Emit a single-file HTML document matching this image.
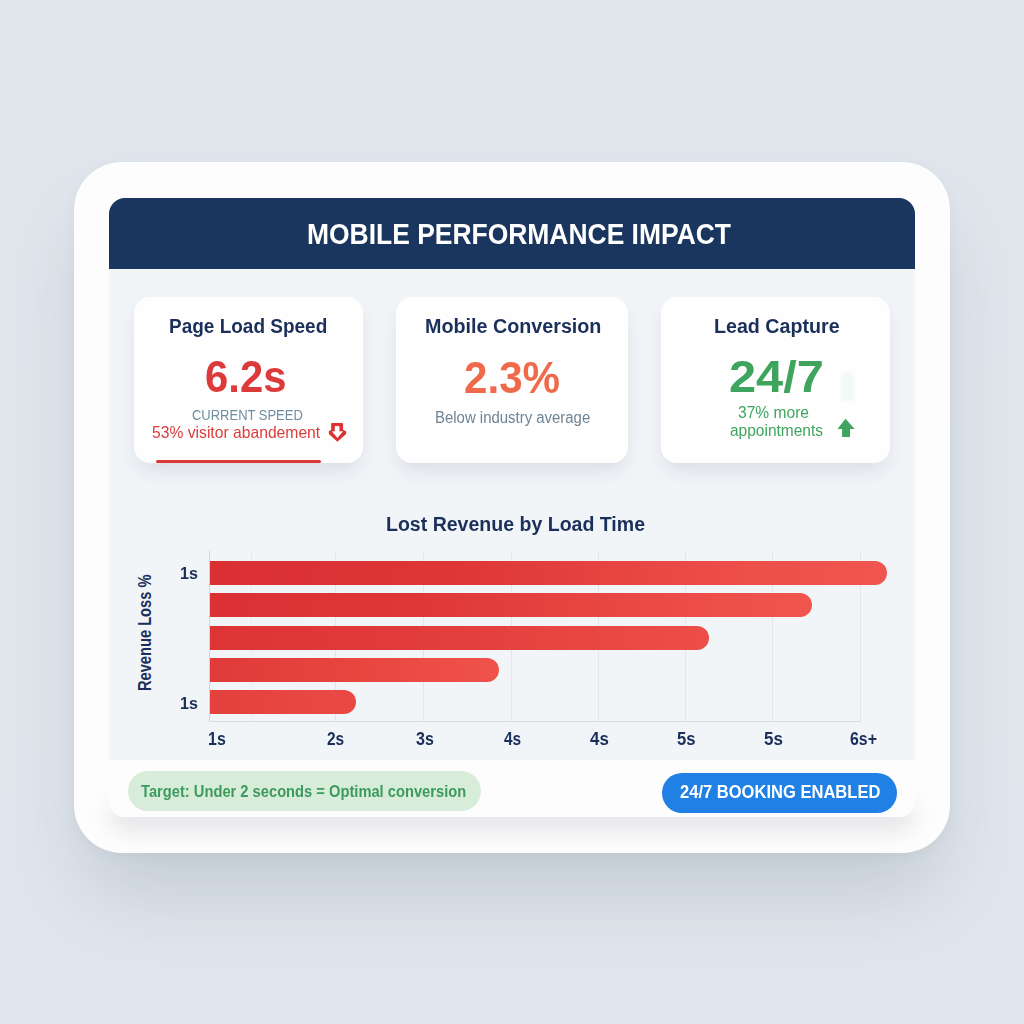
<!DOCTYPE html>
<html><head><meta charset="utf-8">
<style>
*{margin:0;padding:0;box-sizing:border-box}
html,body{width:1024px;height:1024px;overflow:hidden}
body{font-family:"Liberation Sans",sans-serif;background:linear-gradient(180deg,#e1e6ed 0%,#e0e6ec 60%,#e0e6ed 100%);position:relative}
.abs{position:absolute}
.t{position:absolute;white-space:nowrap;line-height:1;transform-origin:0 0}
.outer{left:74px;top:162px;width:876px;height:691px;border-radius:48px;background:#fdfdfd;box-shadow:0 50px 80px -14px rgba(100,115,130,.25),0 4px 12px rgba(100,115,130,.06)}
.panel{left:108.500px;top:198px;width:806.700px;height:619px;border-radius:16px;background:#f2f5f8;overflow:hidden}
.hdr{left:0;top:0;width:808px;height:71px;background:#1a355e}
.foot{left:0;top:562px;width:808px;height:57px;background:#fdfdfe}
.card{height:166px;top:297px;border-radius:16px;background:#fefefe;box-shadow:0 10px 20px -3px rgba(150,160,175,.28)}
.bar{position:absolute;left:210px;height:24px;border-radius:0 12px 12px 0;background:linear-gradient(90deg,#dc3232 0%,#e84440 50%,#f0574f 100%)}
.grid{position:absolute;top:551px;width:1px;height:171px;background:#e2e5ea}
</style></head><body>
<div class="abs outer"></div>
<div class="abs" style="left:74px;top:790px;width:876px;height:63px;overflow:hidden;border-radius:0 0 48px 48px;-webkit-mask-image:linear-gradient(180deg,transparent 0,#000 30px);mask-image:linear-gradient(180deg,transparent 0,#000 30px)"><div class="abs" style="left:34.500px;top:-592px;width:806.700px;height:619px;border-radius:16px;box-shadow:0 16px 22px -2px rgba(105,110,125,.17)"></div></div>
<div class="abs panel">
  <div class="abs hdr"></div>
  <div class="abs foot"></div>
</div>

<div class="abs card" style="left:134px;width:229px"></div>
<div class="abs card" style="left:396px;width:232px"></div>
<div class="abs card" style="left:661px;width:229px"></div>

<svg class="abs" style="left:320px;top:415px" width="36" height="36" viewBox="0 0 36 36">
<path d="M12 8.900H22.200V15.300L25.300 16.700V18.700L17.400 25.500L9.700 18.700V16.700L12 15.300Z" fill="#dc3232" stroke="#dc3232" stroke-width="1.700" stroke-linejoin="round"/>
<path d="M15 11.300H19.200V16.500H22.700L17.400 22.700L12.300 16.500H15Z" fill="#fff" stroke="#fff" stroke-width=".4" stroke-linejoin="round"/>
</svg>
<div class="abs" style="left:156px;top:460px;width:165px;height:3px;background:#dc3838;border-radius:1.500px"></div>

<svg class="abs" style="left:828px;top:410px" width="36" height="36" viewBox="0 0 36 36"><path d="M17.5 8.800L26.700 19H22V26.900H14.100V19H9.500Z" fill="#3fa55e"/></svg>
<div class="abs" style="left:841px;top:371px;width:13px;height:30px;border-radius:7px 7px 3px 3px;background:rgba(63,165,94,.06);filter:blur(1px)"></div>

<div class="grid" style="left:209px;background:#cfd5dd;width:1.200px"></div>
<div class="grid" style="left:251px;background:#e8eaee"></div>
<div class="grid" style="left:335px"></div>
<div class="grid" style="left:423px"></div>
<div class="grid" style="left:511px"></div>
<div class="grid" style="left:598px"></div>
<div class="grid" style="left:685px"></div>
<div class="grid" style="left:772px"></div>
<div class="grid" style="left:860px"></div>
<div class="abs" style="left:209px;top:721px;width:652px;height:1px;background:#d7dbe3"></div>

<div class="bar" style="top:561px;width:677px;background:linear-gradient(90deg,#da3034 0%,#de3537 35%,#ec4d48 75%,#f0564f 100%)"></div>
<div class="bar" style="top:593px;width:602px;background:linear-gradient(90deg,#db3135 0%,#df3738 35%,#ec4d48 80%,#f0554e 100%)"></div>
<div class="bar" style="top:626px;width:498.500px;background:linear-gradient(90deg,#dd3436 0%,#e23b3b 40%,#ed4e49 100%)"></div>
<div class="bar" style="top:658px;width:289px;background:linear-gradient(90deg,#e03a3a 0%,#e8453f 50%,#ef534c 100%)"></div>
<div class="bar" style="top:690px;width:145.500px;background:linear-gradient(90deg,#e4403d 0%,#ea4a45 100%)"></div>

<div class="abs" style="left:127.500px;top:771px;width:353.500px;height:40px;border-radius:20px;background:#d8edd9"></div>
<div class="abs" style="left:662px;top:773px;width:235px;height:40px;border-radius:20px;background:#2080e4"></div>
<div class="t" style="left:307.00px;top:219.5px;font-size:29px;font-weight:bold;color:#fff;transform:scaleX(0.9117)">MOBILE PERFORMANCE IMPACT</div>
<div class="t" style="left:168.80px;top:316.4px;font-size:20px;font-weight:bold;color:#1b2f5b;transform:scaleX(0.9491)">Page Load Speed</div>
<div class="t" style="left:205.40px;top:355.0px;font-size:44px;font-weight:bold;color:#dd3a3c;transform:scaleX(0.9512)">6.2s</div>
<div class="t" style="left:191.80px;top:407.2px;font-size:15px;font-weight:normal;color:#6d8da0;transform:scaleX(0.8650)">CURRENT SPEED</div>
<div class="t" style="left:151.80px;top:424.1px;font-size:16.5px;font-weight:normal;color:#dc3c3c;transform:scaleX(0.9501)">53% visitor abandement</div>
<div class="t" style="left:424.60px;top:316.4px;font-size:20px;font-weight:bold;color:#1b2f5b;transform:scaleX(0.9861)">Mobile Conversion</div>
<div class="t" style="left:464.00px;top:356.1px;font-size:44px;font-weight:bold;color:#ee6a4a;transform:scaleX(0.9576)">2.3%</div>
<div class="t" style="left:434.80px;top:409.5px;font-size:16px;font-weight:normal;color:#6d8496;transform:scaleX(0.9332)">Below industry average</div>
<div class="t" style="left:714.40px;top:316.4px;font-size:20px;font-weight:bold;color:#1b2f5b;transform:scaleX(0.9829)">Lead Capture</div>
<div class="t" style="left:729.00px;top:356.1px;font-size:43.5px;font-weight:bold;color:#3fa55e;transform:scaleX(1.1208)">24/7</div>
<div class="t" style="left:738.00px;top:404.8px;font-size:16px;font-weight:normal;color:#3fa55e;transform:scaleX(0.9741)">37% more</div>
<div class="t" style="left:730.00px;top:423.2px;font-size:16px;font-weight:normal;color:#3fa55e;transform:scaleX(0.9681)">appointments</div>
<div class="t" style="left:386.00px;top:513.7px;font-size:20px;font-weight:bold;color:#1b2f5b;transform:scaleX(0.9765)">Lost Revenue by Load Time</div>
<div class="t" style="left:179.80px;top:564.9px;font-size:17px;font-weight:bold;color:#1b2f5b;transform:scaleX(0.9479)">1s</div>
<div class="t" style="left:179.80px;top:694.5px;font-size:17px;font-weight:bold;color:#1b2f5b;transform:scaleX(0.9479)">1s</div>
<div class="t" style="left:208.00px;top:731.2px;font-size:17.5px;font-weight:bold;color:#1b2f5b;transform:scaleX(0.9119)">1s</div>
<div class="t" style="left:327.40px;top:731.2px;font-size:17.5px;font-weight:bold;color:#1b2f5b;transform:scaleX(0.8849)">2s</div>
<div class="t" style="left:416.20px;top:731.2px;font-size:17.5px;font-weight:bold;color:#1b2f5b;transform:scaleX(0.9150)">3s</div>
<div class="t" style="left:503.60px;top:731.2px;font-size:17.5px;font-weight:bold;color:#1b2f5b;transform:scaleX(0.8849)">4s</div>
<div class="t" style="left:589.80px;top:731.2px;font-size:17.5px;font-weight:bold;color:#1b2f5b;transform:scaleX(0.9663)">4s</div>
<div class="t" style="left:677.00px;top:731.2px;font-size:17.5px;font-weight:bold;color:#1b2f5b;transform:scaleX(0.9507)">5s</div>
<div class="t" style="left:764.20px;top:731.2px;font-size:17.5px;font-weight:bold;color:#1b2f5b;transform:scaleX(0.9722)">5s</div>
<div class="t" style="left:849.80px;top:731.2px;font-size:17.5px;font-weight:bold;color:#1b2f5b;transform:scaleX(0.9095)">6s+</div>
<div class="t" style="left:141.00px;top:783.5px;font-size:16px;font-weight:bold;color:#3c9a5d;transform:scaleX(0.9186)">Target: Under 2 seconds = Optimal conversion</div>
<div class="t" style="left:679.80px;top:784.3px;font-size:17.5px;font-weight:bold;color:#fff;transform:scaleX(0.9454)">24/7 BOOKING ENABLED</div>
<div class="t" style="left:136.2px;top:691.00px;font-size:18px;font-weight:bold;color:#1b2f5b;transform:rotate(-90deg) scaleX(0.8138)">Revenue Loss %</div>
</body></html>
